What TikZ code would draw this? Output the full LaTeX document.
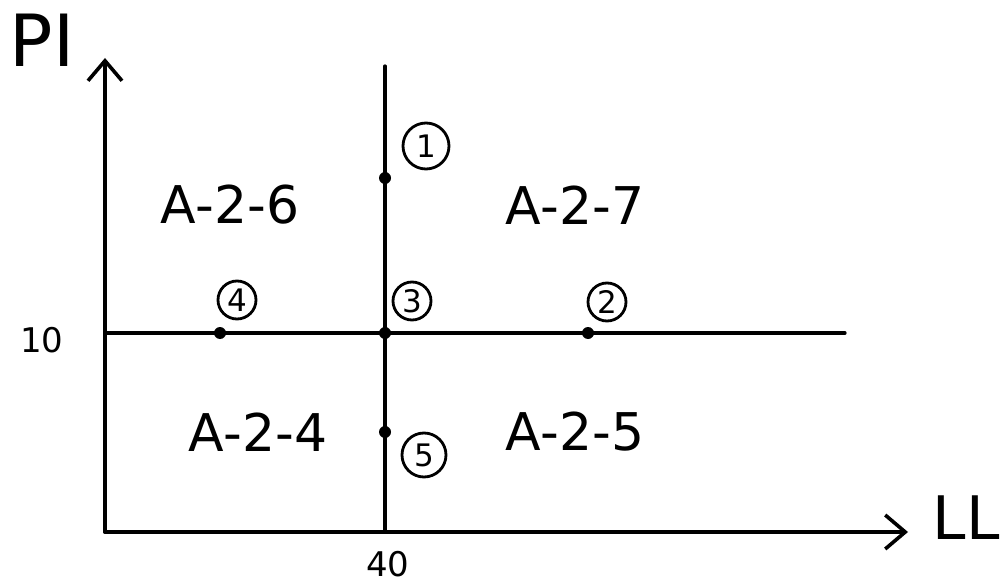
\documentclass[tikz,border=0pt]{standalone}
\usepackage{fontspec}
\setmainfont{DejaVu Sans}
\usetikzlibrary{arrows.meta}
\begin{document}
\begin{tikzpicture}[x=1pt,y=-1pt,
  axis/.style={line width=3.6pt, line cap=round},
  grid/.style={line width=3.2pt, line cap=round},
  arr/.style={-{Straight Barb[length=20pt,width=34pt,line width=3.6pt]}},
  pt/.style={circle, fill=black, inner sep=0pt, minimum size=12pt},
  num/.style={circle, draw, line width=2.8pt, inner sep=0pt, minimum size=38pt, font=\fontsize{31}{34}\selectfont},
  region/.style={font=\fontsize{52}{58}\selectfont},
  tick/.style={font=\fontsize{34}{38}\selectfont}]
\useasboundingbox (0,0) rectangle (1004,588);
% axes
\coordinate (O) at (105,532);
\coordinate (Ytop) at (105,58);
\coordinate (Xend) at (908,532);
\draw[axis,arr] (O) -- (Ytop);
\draw[axis,arr] (O) -- (Xend);
\node[font=\fontsize{72}{76}\selectfont] (PI) at (42,40) {PI};
\node[font=\fontsize{60}{66}\selectfont] (LL) at (966,518) {LL};
% grid lines
\coordinate (Vtop) at (385,66);
\coordinate (Vbot) at (385,532);
\coordinate (Hl) at (105,333);
\coordinate (Hr) at (845,333);
\draw[grid] (Vtop) -- (Vbot);
\draw[grid] (Hl) -- (Hr);
\node[tick] (ten) at (42,340) {10};
\node[tick] (forty) at (388,564) {40};
% points
\node[pt] (p1) at (385,178) {};
\node[pt] (p2) at (588,333) {};
\node[pt] (p3) at (385,333) {};
\node[pt] (p4) at (220,333) {};
\node[pt] (p5) at (385,432) {};
\node[num, minimum size=46pt] (n1) at (426,146) {1};
\node[num] (n2) at (607,302) {2};
\node[num] (n3) at (412,301) {3};
\node[num] (n4) at (237,300) {4};
\node[num, minimum size=44pt] (n5) at (424,455) {5};
% regions
\node[region] (r6) at (230,205) {A-2-6};
\node[region] (r7) at (575,205) {A-2-7};
\node[region] (r4) at (258,432) {A-2-4};
\node[region] (r5) at (575,432) {A-2-5};
\end{tikzpicture}
\end{document}
